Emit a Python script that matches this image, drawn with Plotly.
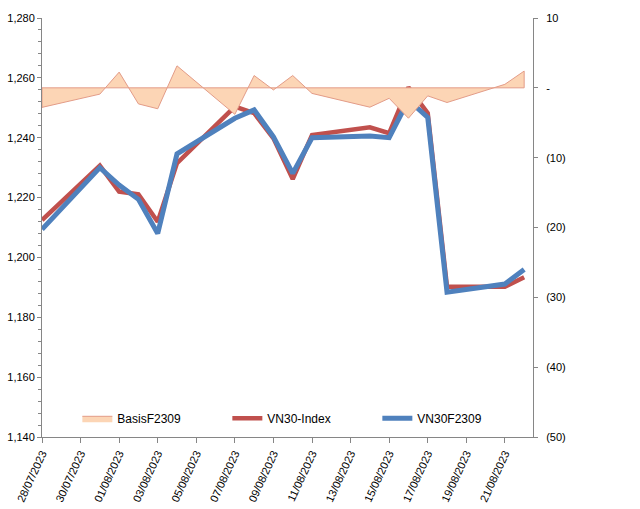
import plotly.graph_objects as go

dates = ["2023-07-28", "2023-07-31", "2023-08-01", "2023-08-02", "2023-08-03", "2023-08-04",
         "2023-08-07", "2023-08-08", "2023-08-09", "2023-08-10", "2023-08-11", "2023-08-14",
         "2023-08-15", "2023-08-16", "2023-08-17", "2023-08-18", "2023-08-21", "2023-08-22"]
vn30_index = [1212.5, 1230.7, 1222.0, 1221.1, 1211.9, 1231.5, 1250.4, 1248.2, 1239.8, 1226.2,
              1240.9, 1243.5, 1241.5, 1256.8, 1248.2, 1190.2, 1190.2, 1193.4]
vn30f2309 = [1209.4, 1230.0, 1224.2, 1219.4, 1208.0, 1234.6, 1246.5, 1249.3, 1240.3, 1228.1,
             1240.0, 1240.6, 1240.0, 1252.6, 1246.8, 1188.4, 1191.1, 1196.0]
basis = [-2.8, -0.9, 2.25, -2.3, -3.0, 3.15, -3.8, 1.76, -0.3, 1.76,
         -0.8, -2.77, -1.5, -4.35, -1.15, -2.1, 0.5, 2.4]
right_ticks = [-50, -40, -30, -20, -10, 0, 10]
right_ticktext = ["(50)", "(40)", "(30)", "(20)", "(10)", "-", "10"]

font = "Liberation Sans, Arial, sans-serif"
axis_col = "#868686"

fig = go.Figure()
# Basis area drawn as closed polygon (Excel area with border)
fig.add_trace(go.Scatter(
    x=[dates[0]] + dates + [dates[-1], dates[0]],
    y=[0] + basis + [0, 0],
    fill="toself", fillcolor="#FCD5B5",
    line=dict(color="#E39C88", width=1),
    mode="lines", name="BasisF2309", yaxis="y2", hoverinfo="skip"))
fig.add_trace(go.Scatter(x=dates, y=vn30_index, mode="lines", name="VN30-Index",
                         line=dict(color="#C0504D", width=4.5)))
fig.add_trace(go.Scatter(x=dates, y=vn30f2309, mode="lines", name="VN30F2309",
                         line=dict(color="#4F81BD", width=5)))

fig.update_layout(
    width=640, height=509,
    margin=dict(l=42, r=107, t=18, b=72),
    paper_bgcolor="white", plot_bgcolor="white",
    font=dict(family=font, size=11, color="#000000"),
    showlegend=True,
    legend=dict(orientation="h", x=0.072, y=0.01, xanchor="left", yanchor="bottom",
                entrywidth=105, entrywidthmode="pixels", bgcolor="rgba(0,0,0,0)",
                font=dict(family=font, size=12, color="#000000"), itemwidth=30,
                traceorder="normal"),
    xaxis=dict(type="date", range=["2023-07-28", "2023-08-22 11:00"], automargin=False,
               tick0="2023-07-28", dtick=2 * 86400000, tickformat="%d/%m/%Y",
               tickangle=-65, showline=True, linecolor=axis_col, linewidth=1,
               ticks="outside", ticklen=5, tickcolor=axis_col, showgrid=False,
               zeroline=False, tickfont=dict(size=11)),
    yaxis=dict(range=[1140, 1280], dtick=20, tickformat=",d", showline=True, automargin=False,
               linecolor=axis_col, linewidth=1, ticks="outside", ticklen=4,
               tickcolor=axis_col, showgrid=False, zeroline=False,
               minor=dict(dtick=4, ticks="outside", ticklen=3, tickcolor=axis_col,
                          showgrid=False),
               tickfont=dict(size=11)),
    yaxis2=dict(range=[-50, 10], overlaying="y", side="right", tickvals=right_ticks,
                automargin=False, ticklabelstandoff=6,
                ticktext=right_ticktext, showline=True, linecolor=axis_col, linewidth=1,
                ticks="outside", ticklen=4, tickcolor=axis_col, showgrid=False,
                zeroline=False, tickfont=dict(size=11)),
)

fig.write_html("out.html", config={"displayModeBar": False},
               post_script="document.body.style.margin='0';")
